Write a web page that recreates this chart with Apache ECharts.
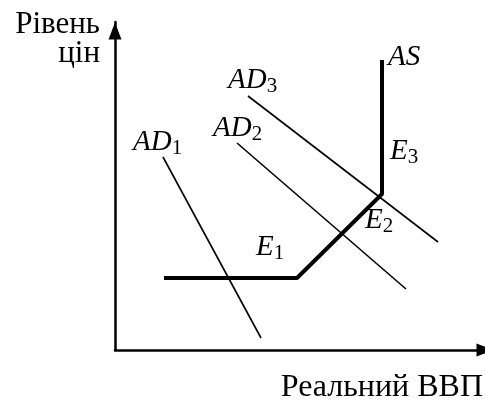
<!DOCTYPE html>
<html>
<head>
<meta charset="utf-8">
<script src="https://cdn.jsdelivr.net/npm/echarts@6/dist/echarts.min.js"></script>
<style>
  html, body { margin: 0; padding: 0; background: #fff; }
  #chart { width: 485px; height: 405px; }
</style>
</head>
<body>
<div id="chart"></div>
<script>
// diagram units: x = real GDP, y = price level (no scale shown)
var asCurve = [[49, 72], [182, 72], [267, 156], [267, 290]];
var ad1 = [[48, 193], [146, 12]];
var ad2 = [[122, 207], [291, 61]];
var ad3 = [[133, 254], [323, 108]];
// curve labels: [x, y, main, sub]
var curveLabels = [
  [18, 208, 'AD', '1'],
  [98, 222, 'AD', '2'],
  [113, 270, 'AD', '3'],
  [273, 293, 'AS', ''],
  [141, 103, 'E', '1'],
  [250, 130, 'E', '2'],
  [275, 199, 'E', '3']
];

var myChart = echarts.init(document.getElementById('chart'));
var serif = '"Liberation Serif", "Times New Roman", serif';

function lineSeries(data, width) {
  return {
    type: 'line',
    data: data,
    symbol: 'none',
    silent: true,
    lineStyle: { color: '#000', width: width }
  };
}

option = {
  animation: false,
  grid: { left: 115, top: 22, right: 0, bottom: 55 },
  xAxis: {
    type: 'value', min: 0, max: 370,
    axisLine: { lineStyle: { color: '#000', width: 2.5 }, symbol: ['none', 'triangle'], symbolSize: [13, 17] },
    axisTick: { show: false }, axisLabel: { show: false }, splitLine: { show: false }
  },
  yAxis: {
    type: 'value', min: 0, max: 328,
    axisLine: { lineStyle: { color: '#000', width: 2.5 }, symbol: ['none', 'triangle'], symbolSize: [13, 17], symbolOffset: [0, -9] },
    axisTick: { show: false }, axisLabel: { show: false }, splitLine: { show: false }
  },
  graphic: [
    { type: 'text', x: 100, y: 9, style: { text: 'Рівень', font: '31px ' + serif, fill: '#000', align: 'right', verticalAlign: 'top' } },
    { type: 'text', x: 100, y: 38, style: { text: 'цін', font: '31px ' + serif, fill: '#000', align: 'right', verticalAlign: 'top' } },
    { type: 'text', x: 483, y: 372, style: { text: 'Реальний ВВП', font: '32px ' + serif, fill: '#000', align: 'right', verticalAlign: 'top' } }
  ],
  series: [
    lineSeries(ad1, 1.6),
    lineSeries(ad2, 1.6),
    lineSeries(ad3, 1.6),
    lineSeries(asCurve, 4),
    {
      type: 'scatter',
      silent: true,
      symbolSize: 0,
      itemStyle: { opacity: 1 },
      data: curveLabels.map(function (d) { return { value: [d[0], d[1]], main: d[2], sub: d[3] }; }),
      label: {
        show: true,
        position: 'right',
        distance: 0,
        opacity: 1,
        formatter: function (p) {
          return '{m|' + p.data.main + '}' + (p.data.sub ? '{s|' + p.data.sub + '}' : '');
        },
        rich: {
          m: { fontFamily: serif, fontStyle: 'italic', fontSize: 29, color: '#000' },
          s: { fontFamily: serif, fontSize: 21, color: '#000', padding: [12, 0, 0, 0] }
        }
      }
    }
  ]
};

myChart.setOption(option);
</script>
</body>
</html>
